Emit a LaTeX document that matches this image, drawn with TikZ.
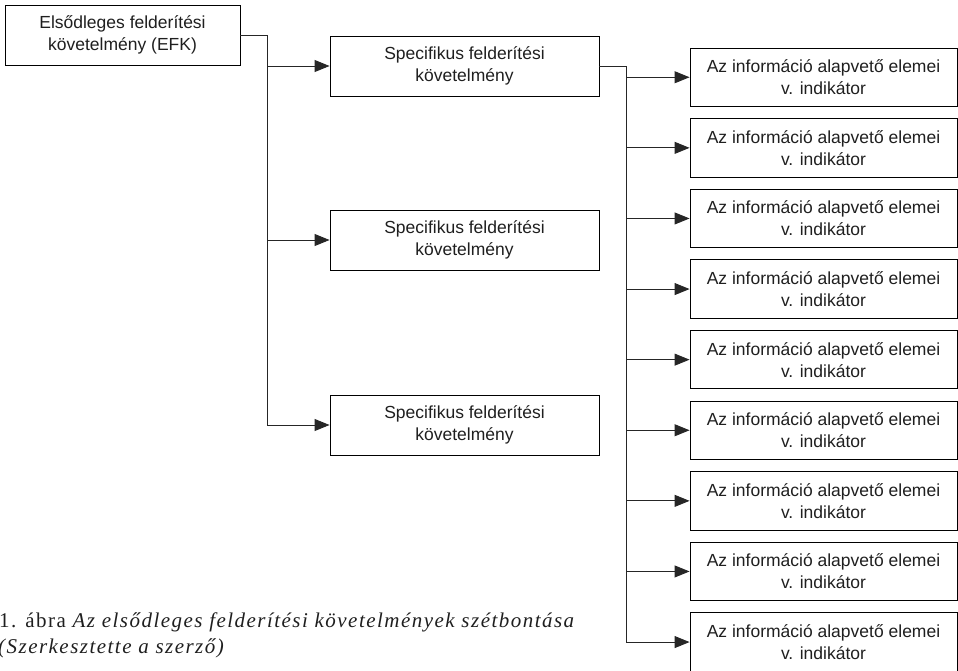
\documentclass[tikz,border=0pt]{standalone}
\usepackage{fontspec}
\setmainfont{Liberation Serif}
\newfontfamily\boxfont{Liberation Sans}
\usetikzlibrary{arrows.meta}
\begin{document}
\begin{tikzpicture}[x=1pt,y=-1pt,
  box/.style={draw=black, line width=0.9pt, align=center,
    font=\boxfont\fontsize{17.5}{22}\selectfont, inner sep=0pt, text=black!88},
  efkbox/.style={box, minimum width=235pt, minimum height=60pt},
  specbox/.style={box, minimum width=269pt, minimum height=60pt},
  infobox/.style={box, minimum width=267pt, minimum height=58.5pt},
  conn/.style={line width=0.9pt, draw=black!85},
  arr/.style={conn, -{Triangle[length=15pt,width=12pt]}},
  captext/.style={anchor=base west, inner sep=0pt,
    font=\fontsize{21}{22}\selectfont\addfontfeatures{LetterSpace=7}, text=black!88}]
\useasboundingbox (0,0) rectangle (958,670);

\node[efkbox] (efk) at (122.5,35) {Elsődleges felderítési\\követelmény (EFK)};

\node[specbox] (s1) at (464.5,66) {Specifikus felderítési\\követelmény};
\node[specbox] (s2) at (464.5,240) {Specifikus felderítési\\követelmény};
\node[specbox] (s3) at (464.5,425) {Specifikus felderítési\\követelmény};

\foreach \i in {1,...,9} {
  \node[infobox] (r\i) at (823.5,{77.25+(\i-1)*70.6}) {Az információ alapvető elemei\\v. indikátor};
}

\coordinate (ja) at (267,0);
\coordinate (jb) at (626,0);

\draw[conn] (efk.east) -- (efk.east -| ja) -- (ja |- s3.west);
\foreach \s in {s1,s2,s3} \draw[arr] (ja |- \s.west) -- (\s.west);

\draw[conn] (s1.east) -- (s1.east -| jb) -- (jb |- r9.west);
\foreach \i in {1,...,9} \draw[arr] (jb |- r\i.west) -- (r\i.west);

\node[captext] (cap1) at (-1,627) {1. ábra \textit{Az elsődleges felderítési követelmények szétbontása}};
\node[captext] (cap2) at (-2,653) {\textit{(Szerkesztette a szerző)}};
\end{tikzpicture}
\end{document}
